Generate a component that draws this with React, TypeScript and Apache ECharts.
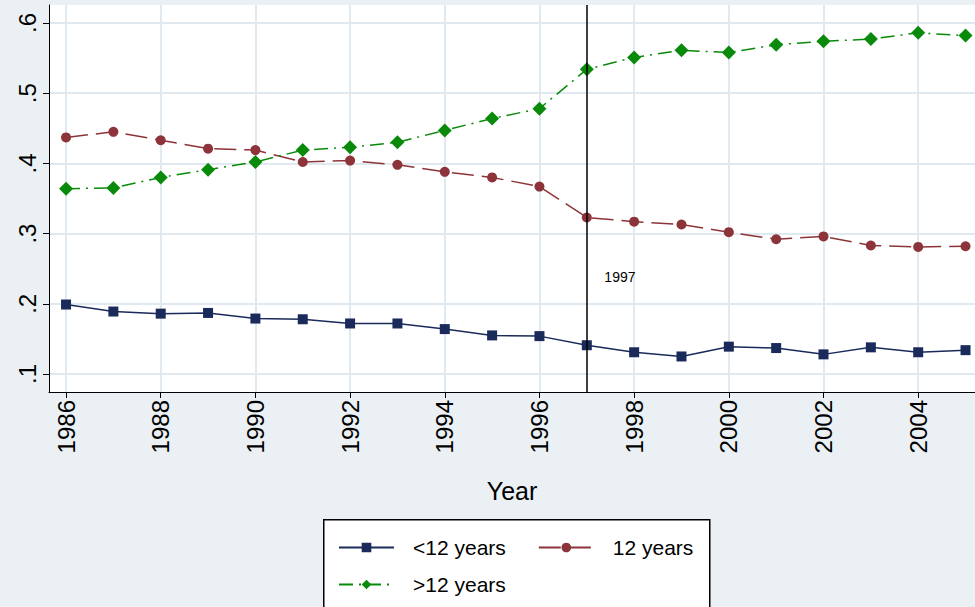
import React, { useEffect, useRef } from "react";
import * as echarts from "echarts";

const years = [1986,1987,1988,1989,1990,1991,1992,1993,1994,1995,1996,1997,1998,1999,2000,2001,2002,2003,2004,2005];
const lt12 = [.199,.189,.186,.187,.179,.178,.172,.172,.164,.155,.154,.141,.131,.125,.139,.137,.128,.138,.131,.134];
const eq12 = [.437,.445,.433,.421,.419,.402,.404,.398,.388,.380,.367,.323,.317,.313,.302,.292,.296,.283,.281,.282];
const gt12 = [.364,.365,.380,.391,.402,.419,.423,.430,.447,.464,.478,.534,.551,.561,.558,.569,.574,.577,.586,.582];
const xTicks = [1986,1988,1990,1992,1994,1996,1998,2000,2002,2004];
const yTicks = [0.1,0.2,0.3,0.4,0.5,0.6];

export default function App() {
  const ref = useRef<HTMLDivElement>(null);
  useEffect(() => {
    const chart = echarts.init(ref.current!, null, { renderer: "svg" });
    const pair = (v: number[]) => v.map((y, i) => [years[i], y]);
    const font = "Liberation Sans, Arial, sans-serif";
    const legendBase = {
      itemWidth: 55, itemHeight: 12, itemGap: 32,
      textStyle: { fontSize: 21, color: "#000", padding: [0, 0, 0, 14] },
    };
    chart.setOption({
      animation: false,
      backgroundColor: "#eaf0f3",
      textStyle: { fontFamily: font },
      grid: { left: 49, right: 0, top: 5, bottom: 215, backgroundColor: "#fff", show: true, borderWidth: 0 },
      graphic: [{ type: "rect", left: 323, top: 519, shape: { width: 386, height: 100 },
        style: { fill: "#fff", stroke: "#000", lineWidth: 1.5 }, z: -1 }],
      xAxis: {
        type: "value", min: 1985.64, max: 2005.2,
        name: "Year", nameLocation: "middle", nameGap: 86,
        nameTextStyle: { fontSize: 25, color: "#000" },
        axisLine: { show: true, onZero: false, lineStyle: { color: "#000" } },
        axisTick: { show: true, customValues: xTicks, length: 6, lineStyle: { color: "#000" } },
        axisLabel: { customValues: xTicks, rotate: 90, fontSize: 24, color: "#000", margin: 8, formatter: (v: number) => String(v) },
        splitLine: { show: true, lineStyle: { color: "#dfe9ef", width: 2 } },
      },
      yAxis: {
        type: "value", min: 0.0744, max: 0.6256,
        axisLine: { show: true, lineStyle: { color: "#000" } },
        axisTick: { show: true, customValues: yTicks, length: 6, lineStyle: { color: "#000" } },
        axisLabel: { customValues: yTicks, rotate: 90, fontSize: 24, color: "#000", margin: 10,
          formatter: (v: number) => "." + Math.round(v * 10) },
        splitLine: { show: true, lineStyle: { color: "#dfe9ef", width: 2 } },
      },
      legend: [
        { ...legendBase, left: 333, top: 532, data: ["<12 years", "12 years"] },
        { ...legendBase, left: 333, top: 569, data: [">12 years"] },
      ],
      series: [
        { name: "<12 years", type: "line", data: pair(lt12), symbol: "rect", symbolSize: 10,
          itemStyle: { color: "#1a2a5a" }, lineStyle: { color: "#1a2a5a", width: 1.5 },
          markLine: { silent: true, symbol: "none", label: { show: false },
            lineStyle: { color: "#000", type: "solid", width: 1.5 }, data: [{ xAxis: 1997 }] },
          markPoint: { symbolSize: 0, data: [{ coord: [1997.7, 0.238], value: "1997" }],
            label: { show: true, formatter: "1997", color: "#000", fontSize: 14 } } },
        { name: "12 years", type: "line", data: pair(eq12), symbol: "circle", symbolSize: 10,
          itemStyle: { color: "#8c3439" }, lineStyle: { color: "#8c3439", width: 1.5, type: [22, 8] } },
        { name: ">12 years", type: "line", data: pair(gt12), symbol: "diamond", symbolSize: 14,
          itemStyle: { color: "#0a8a0a" }, lineStyle: { color: "#0a8a0a", width: 1.5, type: [14, 6, 2, 6] } },
      ],
    });
    return () => chart.dispose();
  }, []);
  return <div ref={ref} style={{ position: "absolute", left: 0, top: 0, width: 975, height: 607 }} />;
}
